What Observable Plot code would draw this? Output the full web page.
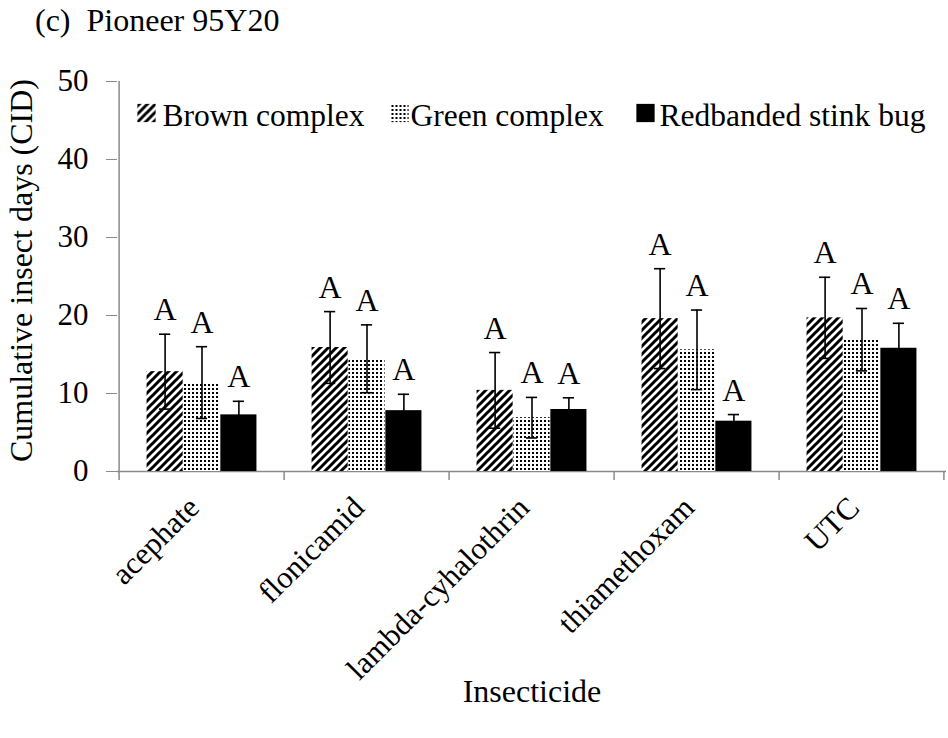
<!DOCTYPE html>
<html><head><meta charset="utf-8">
<script src="https://cdn.jsdelivr.net/npm/d3@7"></script>
<script src="https://cdn.jsdelivr.net/npm/@observablehq/plot@0.6"></script>
<style>
body{margin:0;background:#fff;font-family:'Liberation Serif','Times New Roman',serif;}
#title{height:60px;line-height:40px;font-size:32px;padding-left:35px;white-space:pre;box-sizing:border-box;color:#000;font-family:'Liberation Serif','Times New Roman',serif;}
svg text{font-family:'Liberation Serif','Times New Roman',serif;}
</style></head><body>
<div id="title"></div>
<div id="chart"></div>
<script>
const title = "(c)  Pioneer 95Y20";
const categories = ["acephate", "flonicamid", "lambda-cyhalothrin", "thiamethoxam", "UTC"];
const series = ["Brown complex", "Green complex", "Redbanded stink bug"];
const brownMean = [12.8, 15.9, 10.4, 19.6, 19.7];
const brownErr  = [4.8, 4.6, 4.85, 6.4, 5.2];
const greenMean = [11.4, 14.45, 6.9, 15.6, 16.9];
const greenErr  = [4.6, 4.35, 2.6, 5.1, 4.0];
const redMean   = [7.26, 7.8, 7.95, 6.45, 15.8];
const redErr    = [1.74, 2.1, 1.5, 0.85, 3.2];
const brownLetters = ["A", "A", "A", "A", "A"];
const greenLetters = ["A", "A", "A", "A", "A"];
const redLetters   = ["A", "A", "A", "A", "A"];
const yTicks = [0, 10, 20, 30, 40, 50];
const yLabel = "Cumulative insect days (CID)";
const xLabel = "Insecticide";

document.getElementById("title").textContent = title;

const FONT = "'Liberation Serif', 'Times New Roman', serif";
const means = [brownMean, greenMean, redMean];
const errs = [brownErr, greenErr, redErr];
const letters = [brownLetters, greenLetters, redLetters];
const fills = ["url(#hatchBrown)", "url(#dotsGreen)", "black"];

const W = 948, H = 678, ML = 117, MR = 2, MT = 21, MB = 267;
const bw = (W - ML - MR) / categories.length;
const frameH = H - MT - MB;
const inner = d3.scaleBand(series, [0, bw]).paddingInner(0).paddingOuter(0.747);
const grey = "#8a8a8a";
const capHalf = 6;

const rows = series.map((s, k) => categories.map((c, i) => ({
  cat: c, series: s, mean: means[k][i], err: errs[k][i], letter: letters[k][i]
})));

const marks = [];
marks.push(Plot.ruleY([0], {stroke: grey, strokeWidth: 1.5}));
marks.push(Plot.ruleX([categories[0]], {x: d => d, dx: -bw / 2, y1: 0, y2: yTicks[yTicks.length - 1], stroke: grey, strokeWidth: 1.5}));
marks.push(Plot.ruleX(categories, {x: d => d, dx: -bw / 2, insetTop: frameH, insetBottom: -9, stroke: grey, strokeWidth: 1.5}));
marks.push(Plot.ruleX([categories[categories.length - 1]], {x: d => d, dx: bw / 2 - 1, insetTop: frameH, insetBottom: -9, stroke: grey, strokeWidth: 1.5}));

rows.forEach((data, k) => {
  const L = inner(series[k]), w = inner.bandwidth();
  marks.push(Plot.barY(data, {x: "cat", y: "mean", fill: fills[k], insetLeft: L, insetRight: bw - L - w}));
});
rows.forEach((data, k) => {
  const L = inner(series[k]), w = inner.bandwidth(), c = L + w / 2 - bw / 2;
  marks.push(Plot.ruleX(data, {x: "cat", y1: d => d.mean - d.err, y2: d => d.mean + d.err, dx: c, stroke: "black", strokeWidth: 1.6}));
  marks.push(Plot.tickY(data, {x: "cat", y: d => d.mean + d.err, insetLeft: L + w / 2 - capHalf, insetRight: bw - L - w / 2 - capHalf, stroke: "black", strokeWidth: 1.6}));
  marks.push(Plot.tickY(data, {x: "cat", y: d => d.mean - d.err, insetLeft: L + w / 2 - capHalf, insetRight: bw - L - w / 2 - capHalf, stroke: "black", strokeWidth: 1.6}));
  marks.push(Plot.text(data, {x: "cat", y: d => d.mean + d.err, text: "letter", dx: c, dy: -14, lineAnchor: "bottom", fontSize: 32, fill: "black", fontFamily: FONT}));
});

marks.push(Plot.axisY({ticks: yTicks, tickSize: 11, tickPadding: 18, fontSize: 31, stroke: grey, fill: "black", label: null, tickFormat: d => String(d), fontFamily: FONT}));
marks.push(Plot.axisX({tickSize: 0, tickPadding: 31, tickRotate: -45, dx: -8, fontSize: 31, fill: "black", label: null, fontFamily: FONT}));
marks.push(Plot.text([yLabel], {frameAnchor: "left", rotate: -90, dx: 31 - ML, dy: -6, lineAnchor: "bottom", textAnchor: "middle", fontSize: 32, fill: "black", fontFamily: FONT}));
marks.push(Plot.text([xLabel], {frameAnchor: "bottom", dy: 230, lineAnchor: "bottom", textAnchor: "middle", fontSize: 32, fill: "black", fontFamily: FONT}));

const legendSwatchX = [146, 399, 645];
const legendTextX = [162, 410, 659];
series.forEach((s, k) => {
  marks.push(Plot.dot([s], {frameAnchor: "top-left", dx: legendSwatchX[k] - ML, dy: 52.5 - MT, symbol: "square", r: 10.3, fill: fills[k], stroke: null}));
  marks.push(Plot.text([s], {frameAnchor: "top-left", dx: legendTextX[k] - ML, dy: 65 - MT, lineAnchor: "bottom", textAnchor: "start", fontSize: 31.5, fill: "black", fontFamily: FONT}));
});

const chart = Plot.plot({
  width: W, height: H,
  marginLeft: ML, marginRight: MR, marginTop: MT, marginBottom: MB,
  style: {fontFamily: FONT, color: "black", background: "white", overflow: "visible"},
  x: {domain: categories, padding: 0, axis: null},
  y: {domain: [0, 50], axis: null},
  marks
});

const defs = d3.select(chart).insert("defs", ":first-child");
const p1 = defs.append("pattern").attr("id", "hatchBrown").attr("patternUnits", "userSpaceOnUse").attr("width", 8).attr("height", 8);
p1.append("rect").attr("width", 8).attr("height", 8).attr("fill", "white");
p1.append("path").attr("d", "M-2,2 L2,-2 M0,8 L8,0 M6,10 L10,6").attr("stroke", "black").attr("stroke-width", 3);
const p2 = defs.append("pattern").attr("id", "dotsGreen").attr("patternUnits", "userSpaceOnUse").attr("width", 4).attr("height", 4);
p2.append("rect").attr("width", 4).attr("height", 4).attr("fill", "white");
p2.append("rect").attr("width", 2).attr("height", 2).attr("fill", "black");

document.getElementById("chart").appendChild(chart);
</script>
</body></html>
